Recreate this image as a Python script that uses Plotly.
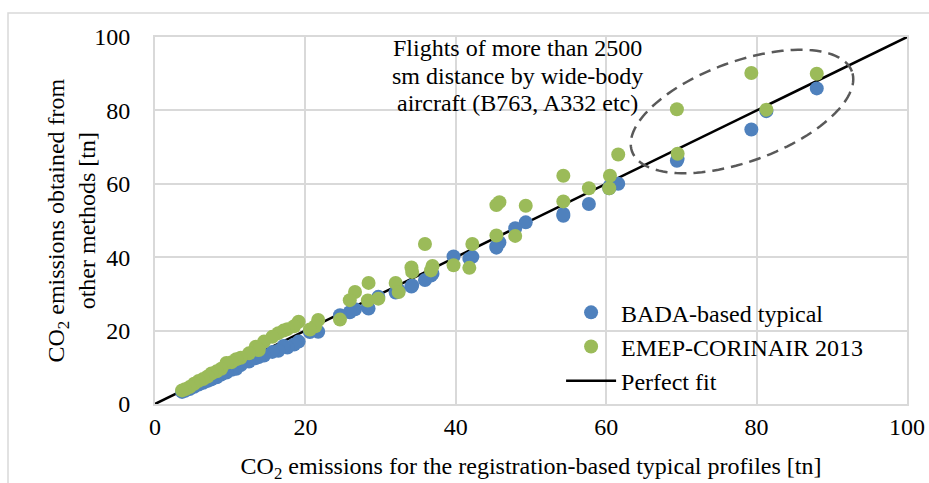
import numpy as np
import plotly.graph_objects as go

# Flight-level CO2 estimates [tn]
registration_based = [88.0, 81.3, 79.3, 69.4, 69.5, 61.6, 60.5, 60.4, 57.7, 54.3,
                      54.3, 49.3, 47.9, 45.8, 45.4, 45.4, 42.2, 41.8, 39.7, 36.9,
                      36.7, 35.9, 34.1, 34.2, 32.0, 32.4, 29.7, 28.4, 28.3, 26.6,
                      25.9, 24.6, 21.7, 21.3, 20.6, 19.1, 18.5, 17.6, 17.1, 16.4,
                      15.6, 14.5, 13.4, 13.8, 12.5, 11.4, 10.8, 10.2, 9.5, 8.8,
                      8.2, 7.5, 7.0, 6.4, 5.8, 5.2, 4.6, 4.0, 3.6]
bada_typical = [86.0, 79.8, 74.8, 66.3, 66.8, 60.0, 59.5, 58.8, 54.5, 51.3,
                51.8, 49.5, 47.9, 44.0, 42.6, 43.0, 40.1, 39.6, 40.2, 35.5,
                35.0, 33.8, 32.0, 32.3, 30.4, 31.0, 29.2, 26.0, 26.3, 25.8,
                25.0, 24.2, 19.7, 20.4, 19.6, 17.0, 16.2, 15.4, 15.8, 14.5,
                14.2, 13.2, 12.5, 12.8, 11.6, 10.6, 9.6, 9.3, 8.6, 8.0,
                7.3, 6.7, 6.3, 5.8, 5.3, 4.7, 4.1, 3.6, 3.3]
emep_corinair = [90.0, 80.2, 90.2, 80.3, 68.2, 68.0, 62.2, 58.8, 58.8, 62.2,
                 55.2, 54.0, 45.8, 55.0, 54.2, 45.9, 43.6, 37.1, 37.8, 37.6,
                 36.4, 43.6, 37.2, 36.0, 33.0, 30.5, 28.7, 33.0, 28.2, 30.5,
                 28.3, 23.0, 22.9, 21.2, 20.3, 22.4, 21.2, 20.4, 20.0, 19.3,
                 18.3, 17.0, 15.6, 14.7, 13.8, 12.6, 12.2, 11.4, 11.2, 9.6,
                 8.9, 8.3, 7.5, 6.8, 6.3, 5.5, 4.6, 4.0, 3.7]
fit_line = [0, 100]
tick_values = [0, 20, 40, 60, 80, 100]
tick_text = ["0", "20", "40", "60", "80", "100"]

FONT = "Liberation Serif, Times New Roman, serif"
BLUE = "#4f81bd"
GREEN = "#9bbb59"

W, H = 929, 483
M_L, M_R, M_T, M_B = 155, 22, 37, 79
PW, PH = W - M_L - M_R, H - M_T - M_B


def px_to_x(px):
    return (px - M_L) / PW * 100


def px_to_y(py):
    return (M_T + PH - py) / PH * 100


fig = go.Figure()

fig.add_trace(go.Scatter(
    x=fit_line, y=fit_line, mode="lines", name="Perfect fit",
    line=dict(color="black", width=2.5), legendrank=3))
fig.add_trace(go.Scatter(
    x=registration_based, y=bada_typical, mode="markers",
    name="BADA-based typical", legendrank=1,
    marker=dict(color=BLUE, size=14)))
fig.add_trace(go.Scatter(
    x=registration_based, y=emep_corinair, mode="markers",
    name="EMEP-CORINAIR 2013", legendrank=2,
    marker=dict(color=GREEN, size=14)))

# Tilted dashed ellipse around the long-haul wide-body flights (pixel geometry)
cx_px, cy_px, a_px, b_px, theta = 742, 111.5, 117, 50, np.radians(20)
t = np.linspace(0, 2 * np.pi, 121)
ex_px = cx_px + a_px * np.cos(t) * np.cos(theta) - b_px * np.sin(t) * np.sin(theta)
ey_px = cy_px - (a_px * np.cos(t) * np.sin(theta) + b_px * np.sin(t) * np.cos(theta))
path = "M " + " L ".join(f"{px_to_x(x):.3f},{px_to_y(y):.3f}"
                         for x, y in zip(ex_px, ey_px)) + " Z"
fig.add_shape(type="path", path=path, xref="x", yref="y",
              line=dict(color="#595959", width=2.5, dash="12px,7px"))

# Outer chart frame
fig.add_shape(type="rect", xref="paper", yref="paper",
              x0=(8 - M_L) / PW, x1=(940 - M_L) / PW,
              y0=(M_T + PH - 500) / PH, y1=(M_T + PH - 13) / PH,
              line=dict(color="#d9d9d9", width=1.5), layer="below")

note_lines = ["Flights of more than 2500", "sm distance by wide-body",
              "aircraft (B763, A332 etc)"]
for i, txt in enumerate(note_lines):
    fig.add_annotation(x=px_to_x(517), y=px_to_y(48 + i * 27.5),
                       xref="x", yref="y", text=txt, showarrow=False,
                       font=dict(family=FONT, size=24, color="black"))

# Y-axis title, two rotated lines
fig.add_annotation(xref="paper", yref="paper", x=(71 - M_L) / PW, y=0.5,
                   xanchor="center", yanchor="middle", textangle=-90,
                   text="CO<sub>2</sub> emissions obtained from<br>other methods [tn]",
                   showarrow=False, font=dict(family=FONT, size=24, color="black"))

axis_common = dict(
    range=[0, 100], tickmode="array", tickvals=tick_values, ticktext=tick_text,
    showgrid=True, gridcolor="#d9d9d9", gridwidth=2, zeroline=False,
    showline=True, linecolor="#d9d9d9", linewidth=2, mirror=True,
    fixedrange=True)

fig.update_layout(
    width=W, height=H,
    margin=dict(l=M_L, r=M_R, t=M_T, b=M_B, autoexpand=False),
    paper_bgcolor="white", plot_bgcolor="white",
    font=dict(family=FONT, size=24, color="black"),
    xaxis=dict(**axis_common, ticklabelstandoff=0,
               tickfont=dict(family=FONT, size=24, color="black"),
               title=dict(text="CO<sub>2</sub> emissions for the registration-based typical profiles [tn]",
                          font=dict(family=FONT, size=24, color="black"), standoff=22)),
    yaxis=dict(**axis_common, ticklabelstandoff=18,
               tickfont=dict(family=FONT, size=24, color="black")),
    legend=dict(x=0.54, y=0.31, xanchor="left", yanchor="top",
                bgcolor="rgba(0,0,0,0)", itemwidth=50,
                font=dict(family=FONT, size=24, color="black"),
                tracegroupgap=0),
    showlegend=True,
)

fig.write_html("out.html")
